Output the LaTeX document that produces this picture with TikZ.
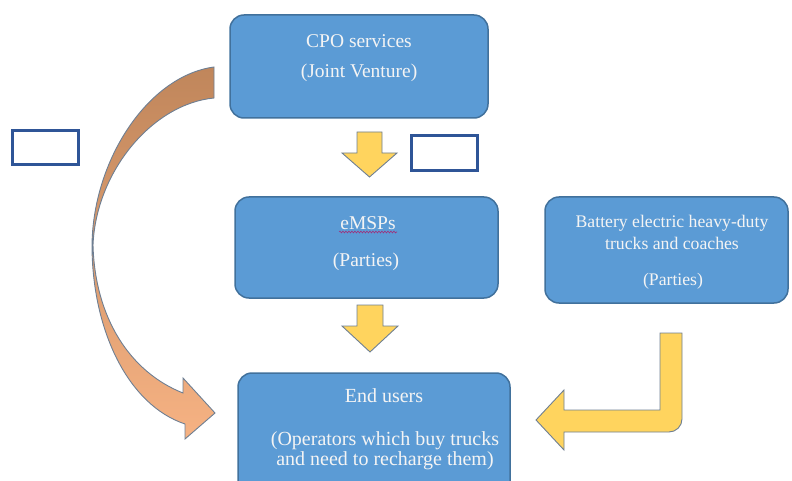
\documentclass[tikz,border=0pt]{standalone}
\usepackage{fontspec}
\setmainfont{Liberation Serif}
\usetikzlibrary{decorations.pathmorphing}
\definecolor{boxblue}{HTML}{5B9BD5}
\definecolor{boxedge}{HTML}{41719C}
\definecolor{txt}{HTML}{F4F4F4}
\definecolor{gold}{HTML}{FFD45E}
\definecolor{arrowedge}{HTML}{6E7F93}
\definecolor{frameblue}{HTML}{2F5597}
\definecolor{brownA}{HTML}{C0865B}
\definecolor{orangeB}{HTML}{F6B283}
\definecolor{spell}{HTML}{A0307A}
\begin{document}
\begin{tikzpicture}[x=1pt,y=-1pt,
  bluebox/.style={draw=boxedge, line width=1.5pt, fill=boxblue, rounded corners=14pt, inner sep=0pt},
  boxtext/.style={text=txt, inner sep=0pt, font=\fontsize{19.5}{23}\selectfont},
  endtext/.style={text=txt, inner sep=0pt, font=\fontsize{20}{23}\selectfont},
  smalltext/.style={text=txt, inner sep=0pt, font=\fontsize{17.7}{20}\selectfont},
  emptybox/.style={draw=frameblue, line width=3pt, fill=white, inner sep=0pt},
  goldarrow/.style={draw=arrowedge, line width=0.9pt, fill=gold, line join=miter},
  curvearrow/.style={draw=arrowedge, line width=0.9pt, top color=brownA, bottom color=orangeB}
]
\useasboundingbox (0,0) rectangle (792,481);
\clip (0,0) rectangle (792,481);

% boxes
\node[bluebox, minimum width=258pt, minimum height=103pt] (cpo) at (359,66.5) {};
\node[bluebox, minimum width=263pt, minimum height=101pt] (emsp) at (366.5,247.5) {};
\node[bluebox, minimum width=243pt, minimum height=106pt] (bev) at (666.5,250) {};
\node[bluebox, minimum width=272pt, minimum height=125pt] (end) at (374,435.5) {};

% texts
\node[boxtext] (cpo1) at (359,41) {CPO services};
\node[boxtext] (cpo2) at (359,73) {(Joint Venture)};
\node[boxtext] (emsp1) at (368,223) {eMSPs};
\node[boxtext] (emsp2) at (366,262) {(Parties)};
\node[smalltext] (bev1) at (672,223) {Battery electric heavy-duty};
\node[smalltext] (bev2) at (672,243) {trucks and coaches};
\node[smalltext] (bev3) at (673,281) {(Parties)};
\node[endtext] (end1) at (384,396) {End users};
\node[endtext] (end2) at (385,441) {(Operators which buy trucks};
\node[endtext] (end3) at (385,461) {and need to recharge them)};

% spell-check underline
\coordinate (sp1) at (339,232);
\coordinate (sp2) at (397,232);
\draw[spell, line width=0.6pt, decorate, decoration={snake, amplitude=0.9pt, segment length=3pt}] (sp1) -- (sp2);

% empty frames
\node[emptybox, minimum width=66pt, minimum height=34pt] (fr1) at (45.5,148) {};
\node[emptybox, minimum width=66pt, minimum height=35pt] (fr2) at (444,153.5) {};

% yellow down arrows
\draw[goldarrow] (357,132) -- (382,132) -- (382,153) -- (397,153) -- (369.5,177) -- (342,153) -- (357,153) -- cycle;
\draw[goldarrow] (357,305) -- (383,305) -- (383,326) -- (398,326) -- (370,352) -- (342,326) -- (357,326) -- cycle;

% L-shaped arrow
\draw[goldarrow] (660,333) -- (682,333) -- (682,419) arc[start angle=0, end angle=90, radius=13] -- (564,432) -- (564,450) -- (536,420) -- (564,390) -- (564,410) -- (660,410) -- cycle;

% curved arrow
\draw[curvearrow] (214,67) .. controls (148,76) and (93,160) .. (92,245)
  .. controls (92,330) and (128,405) .. (185,424)
  -- (185,439) -- (215,413) -- (183,378) -- (183,393)
  .. controls (130,372) and (95,318) .. (93,245)
  .. controls (96,172) and (152,104) .. (214,98) -- cycle;
\end{tikzpicture}
\end{document}
